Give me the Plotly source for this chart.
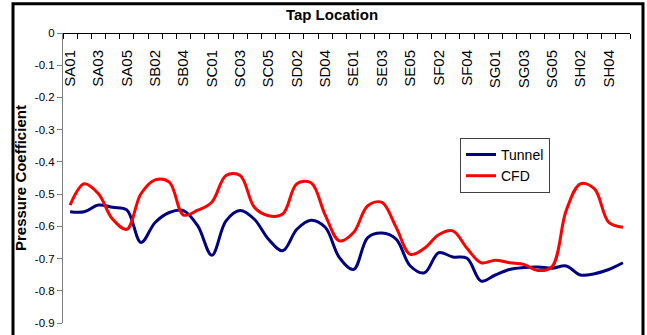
import plotly.graph_objects as go

# Tap locations along the model (eight rows, five taps each)
tap_locations = [
    "SA01", "SA02", "SA03", "SA04", "SA05",
    "SB01", "SB02", "SB03", "SB04", "SB05",
    "SC01", "SC02", "SC03", "SC04", "SC05",
    "SD01", "SD02", "SD03", "SD04", "SD05",
    "SE01", "SE02", "SE03", "SE04", "SE05",
    "SF01", "SF02", "SF03", "SF04", "SF05",
    "SG01", "SG02", "SG03", "SG04", "SG05",
    "SH01", "SH02", "SH03", "SH04", "SH05",
]

# Measured pressure coefficients (wind tunnel)
tunnel_cp = [
    -0.555, -0.555, -0.534, -0.541, -0.549,
    -0.650, -0.588, -0.557, -0.551, -0.598,
    -0.690, -0.583, -0.551, -0.578, -0.640,
    -0.676, -0.609, -0.581, -0.603, -0.697,
    -0.734, -0.635, -0.621, -0.640, -0.723,
    -0.744, -0.682, -0.695, -0.699, -0.770,
    -0.751, -0.734, -0.728, -0.726, -0.730,
    -0.723, -0.751, -0.747, -0.734, -0.713,
]

# Computed pressure coefficients (CFD)
cfd_cp = [
    -0.534, -0.468, -0.499, -0.578, -0.609,
    -0.499, -0.456, -0.463, -0.565, -0.550,
    -0.525, -0.442, -0.442, -0.541, -0.567,
    -0.562, -0.468, -0.465, -0.565, -0.645,
    -0.619, -0.536, -0.526, -0.603, -0.687,
    -0.668, -0.626, -0.614, -0.668, -0.713,
    -0.705, -0.713, -0.718, -0.737, -0.725,
    -0.551, -0.468, -0.484, -0.588, -0.603,
]

y_ticks = [0, -0.1, -0.2, -0.3, -0.4, -0.5, -0.6, -0.7, -0.8, -0.9]
y_tick_text = ["0", "-0.1", "-0.2", "-0.3", "-0.4", "-0.5", "-0.6", "-0.7", "-0.8", "-0.9"]

positions = list(range(len(tap_locations)))
font_family = "Arial, Liberation Sans, sans-serif"

fig = go.Figure()
fig.add_trace(go.Scatter(
    x=positions, y=tunnel_cp, name="Tunnel", mode="lines",
    line=dict(color="#000080", width=3, shape="spline", smoothing=1.0),
))
fig.add_trace(go.Scatter(
    x=positions, y=cfd_cp, name="CFD", mode="lines",
    line=dict(color="#FF0000", width=3, shape="spline", smoothing=1.0),
))

fig.update_layout(
    width=647, height=335,
    margin=dict(l=63, r=17, t=33, b=12),
    paper_bgcolor="white", plot_bgcolor="white",
    font=dict(family=font_family, color="black"),
    title=dict(
        text="<b>Tap Location</b>",
        font=dict(size=15, family=font_family, color="black"),
        x=332 / 647, xref="container", xanchor="center",
        y=1 - 15 / 335, yref="container", yanchor="middle",
    ),
    showlegend=True,
    legend=dict(
        x=(460 - 63) / 567, y=(322.7 - 138) / 289.4,
        xanchor="left", yanchor="top",
        bgcolor="white", bordercolor="#404040", borderwidth=1,
        font=dict(size=14, family=font_family, color="black"),
        tracegroupgap=0,
    ),
    # category axis sits along the zero line at the top, labels hang below it
    xaxis=dict(
        side="bottom", anchor="free", position=1,
        range=[-0.5, len(tap_locations) - 0.5],
        tickmode="array",
        tickvals=positions[::2],
        ticktext=tap_locations[::2],
        tickangle=-90,
        ticks="",
        ticklabelstandoff=10,
        tickfont=dict(size=15, family=font_family, color="black"),
        minor=dict(tick0=-0.5, dtick=1, ticks="outside", ticklen=5,
                   tickcolor="black", tickwidth=1, showgrid=False),
        showline=True, linecolor="black", linewidth=1,
        showgrid=False, zeroline=False, fixedrange=True, automargin=False,
    ),
    yaxis=dict(
        range=[-0.9, 0],
        tickmode="array",
        tickvals=y_ticks,
        ticktext=y_tick_text,
        ticks="outside", ticklen=5, tickcolor="#808080",
        tickfont=dict(size=11.5, family=font_family, color="black"),
        showline=True, linecolor="#808080", linewidth=1,
        showgrid=False, zeroline=False, fixedrange=True, automargin=False,
    ),
    annotations=[dict(
        text="<b>Pressure Coefficient</b>",
        xref="paper", yref="paper",
        x=(20 - 63) / 567, y=0.5,
        xanchor="center", yanchor="middle",
        textangle=-90, showarrow=False,
        font=dict(size=15, family=font_family, color="black"),
    )],
    shapes=[dict(
        type="rect", xref="paper", yref="paper",
        x0=(13 - 63) / 567, x1=(643 - 63) / 567,
        y0=-0.2, y1=(322.7 - 4) / 289.4,
        line=dict(color="black", width=3), fillcolor="rgba(0,0,0,0)",
    )],
)

fig.write_html("out.html")
